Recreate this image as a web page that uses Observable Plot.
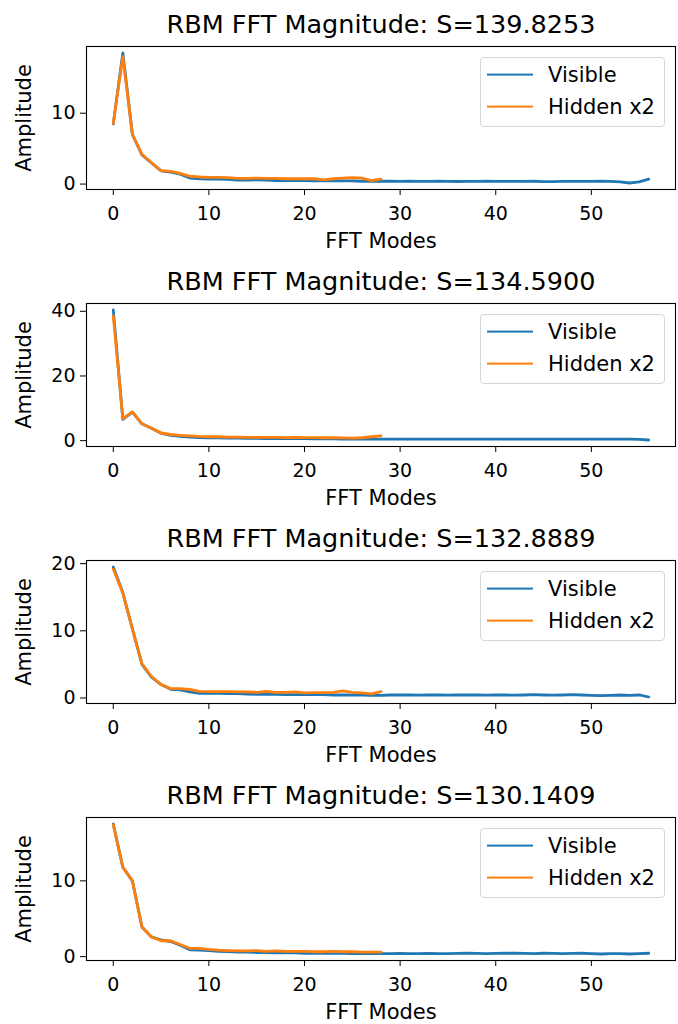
<!DOCTYPE html>
<html><head><meta charset="utf-8">
<script src="https://cdn.jsdelivr.net/npm/d3@7"></script>
<script src="https://cdn.jsdelivr.net/npm/@observablehq/plot@0.6"></script>
<style>
body{margin:0;background:#fff;font-family:"DejaVu Sans",sans-serif;}
.panel{position:relative;width:678px;overflow:hidden;}
.panel svg{display:block;}
.legend{position:absolute;left:480px;width:185px;height:70px;border:1px solid #d6d6d6;border-radius:4px;background:rgba(255,255,255,0.8);box-sizing:border-box;font-family:"DejaVu Sans";font-size:21px;color:#000;}
.row{position:absolute;left:0;height:0;}
.row .ln{position:absolute;left:6px;width:46px;height:0;border-top:2.8px solid;transform:translateY(-1.4px);}
.row .lb{position:absolute;left:67px;top:-13px;white-space:nowrap;line-height:26px;}
</style></head><body><div id="chart"></div><script>
const titles = ["RBM FFT Magnitude: S=139.8253","RBM FFT Magnitude: S=134.5900","RBM FFT Magnitude: S=132.8889","RBM FFT Magnitude: S=130.1409"];
const seriesNames = ["Visible", "Hidden x2"];
const seriesColors = ["#1f77b4", "#ff7f0e"];
const xTicks = [0, 10, 20, 30, 40, 50];
const yTicks1 = [0, 10];
const yTicks2 = [0, 20, 40];
const yTicks3 = [0, 10, 20];
const yTicks4 = [0, 10];

const visible1 = [8.5,18.5,7.0,4.1,3.0,1.85,1.7,1.4,0.85,0.75, 0.7,0.7,0.65,0.55,0.55,0.6,0.55,0.5,0.5,0.5, 0.5,0.45,0.45,0.45,0.45,0.45,0.4,0.4,0.4,0.4, 0.38,0.4,0.38,0.38,0.4,0.38,0.36,0.38,0.38,0.4, 0.38,0.38,0.38,0.38,0.4,0.35,0.35,0.38,0.38,0.38, 0.38,0.4,0.38,0.3,0.15,0.3,0.7];
const hidden1 = [8.6,18.0,7.0,4.2,3.0,1.9,1.8,1.5,1.1,1.0, 0.95,0.95,0.9,0.8,0.8,0.85,0.8,0.8,0.75,0.75, 0.75,0.75,0.6,0.75,0.85,0.9,0.85,0.5,0.7];

const visible2 = [40.4,6.6,8.8,5.2,3.8,2.3,1.6,1.3,1.1,0.95, 0.9,0.85,0.8,0.75,0.7,0.7,0.65,0.65,0.6,0.6, 0.6,0.55,0.55,0.55,0.5,0.5,0.5,0.5,0.5,0.5, 0.48,0.5,0.5,0.48,0.5,0.5,0.48,0.5,0.48,0.5, 0.5,0.48,0.48,0.5,0.5,0.48,0.5,0.48,0.48,0.5, 0.48,0.5,0.45,0.5,0.45,0.4,0.2];
const hidden2 = [38.6,6.8,8.9,5.2,3.8,2.4,1.9,1.6,1.5,1.3, 1.2,1.2,1.1,1.1,1.0,1.0,1.0,1.0,0.95,1.0, 0.95,0.95,0.9,0.9,0.85,0.8,0.9,1.2,1.5];

const visible3 = [19.5,15.7,10.3,5.0,3.1,2.0,1.3,1.2,0.9,0.7, 0.7,0.7,0.65,0.65,0.6,0.55,0.6,0.55,0.5,0.5, 0.5,0.5,0.5,0.45,0.45,0.45,0.45,0.4,0.4,0.45, 0.45,0.45,0.42,0.45,0.45,0.42,0.45,0.45,0.45,0.42, 0.45,0.45,0.42,0.45,0.5,0.45,0.42,0.45,0.5,0.45, 0.4,0.35,0.4,0.45,0.4,0.45,0.15];
const hidden3 = [19.2,15.6,10.3,5.1,3.2,2.0,1.4,1.4,1.3,1.0, 0.95,0.95,0.95,0.9,0.9,0.85,1.0,0.85,0.85,0.9, 0.75,0.8,0.8,0.85,1.05,0.85,0.75,0.6,0.95];

const visible4 = [17.5,11.8,10.0,3.9,2.6,2.2,2.0,1.5,0.9,0.85, 0.8,0.7,0.65,0.6,0.6,0.55,0.55,0.5,0.5,0.5, 0.45,0.45,0.45,0.45,0.45,0.4,0.4,0.4,0.4,0.4, 0.42,0.4,0.4,0.42,0.4,0.4,0.42,0.45,0.42,0.4, 0.42,0.45,0.45,0.42,0.4,0.45,0.42,0.4,0.42,0.45, 0.4,0.35,0.4,0.4,0.35,0.4,0.45];
const hidden4 = [17.4,11.8,10.0,3.9,2.6,2.1,2.1,1.6,1.1,1.1, 0.95,0.85,0.8,0.75,0.75,0.8,0.7,0.75,0.7,0.7, 0.7,0.65,0.65,0.7,0.65,0.65,0.6,0.6,0.6];

const panels = [
  {vis: visible1, hid: hidden1, title: titles[0], yt: yTicks1, H: 257},
  {vis: visible2, hid: hidden2, title: titles[1], yt: yTicks2, H: 257},
  {vis: visible3, hid: hidden3, title: titles[2], yt: yTicks3, H: 257},
  {vis: visible4, hid: hidden4, title: titles[3], yt: yTicks4, H: 253}
];

const FT = 46, FH = 143;
const root = document.getElementById("chart");
for (const p of panels) {
  const n = p.vis.length;
  const xpad = (n - 1) * 0.05;
  const [lo, hi] = d3.extent(p.vis.concat(p.hid));
  const ypad = (hi - lo) * 0.05;
  const svg = Plot.plot({
    width: 678, height: p.H,
    marginTop: FT, marginBottom: p.H - FT - FH, marginLeft: 86, marginRight: 3,
    style: {fontFamily: "DejaVu Sans", fontSize: "19px", color: "#000", background: "white", overflow: "visible"},
    x: {domain: [-xpad, n - 1 + xpad]},
    y: {domain: [lo - ypad, hi + ypad]},
    marks: [
      Plot.lineY(p.vis, {stroke: seriesColors[0], strokeWidth: 2.8}),
      Plot.lineY(p.hid, {stroke: seriesColors[1], strokeWidth: 2.8}),
      Plot.frame({stroke: "#000", strokeWidth: 1.1}),
      Plot.axisX({ticks: xTicks, tickSize: 6, tickPadding: 11, label: null, fontSize: 19, stroke: "#000"}),
      Plot.axisY({ticks: p.yt, tickSize: 6, tickPadding: 5, label: null, fontSize: 19, stroke: "#000"}),
      Plot.text([p.title], {text: d => d, frameAnchor: "top", dy: -22, fontSize: 25.5, lineAnchor: "middle", fill: "#000"}),
      Plot.text(["FFT Modes"], {text: d => d, frameAnchor: "bottom", dy: 52, fontSize: 21, lineAnchor: "middle", fill: "#000"}),
      Plot.text(["Amplitude"], {text: d => d, frameAnchor: "left", textAnchor: "middle", dx: -62, rotate: -90, fontSize: 21, lineAnchor: "middle", fill: "#000"})
    ]
  });
  const div = document.createElement("div");
  div.className = "panel";
  div.style.height = p.H + "px";
  div.appendChild(svg);
  const lg = document.createElement("div");
  lg.className = "legend";
  lg.style.top = (FT + 11) + "px";
  seriesNames.forEach((name, i) => {
    const row = document.createElement("div");
    row.className = "row";
    row.style.top = (i === 0 ? 17 : 49) + "px";
    row.innerHTML = `<div class="ln" style="border-color:${seriesColors[i]}"></div><div class="lb">${name}</div>`;
    lg.appendChild(row);
  });
  div.appendChild(lg);
  root.appendChild(div);
}
</script></body></html>
